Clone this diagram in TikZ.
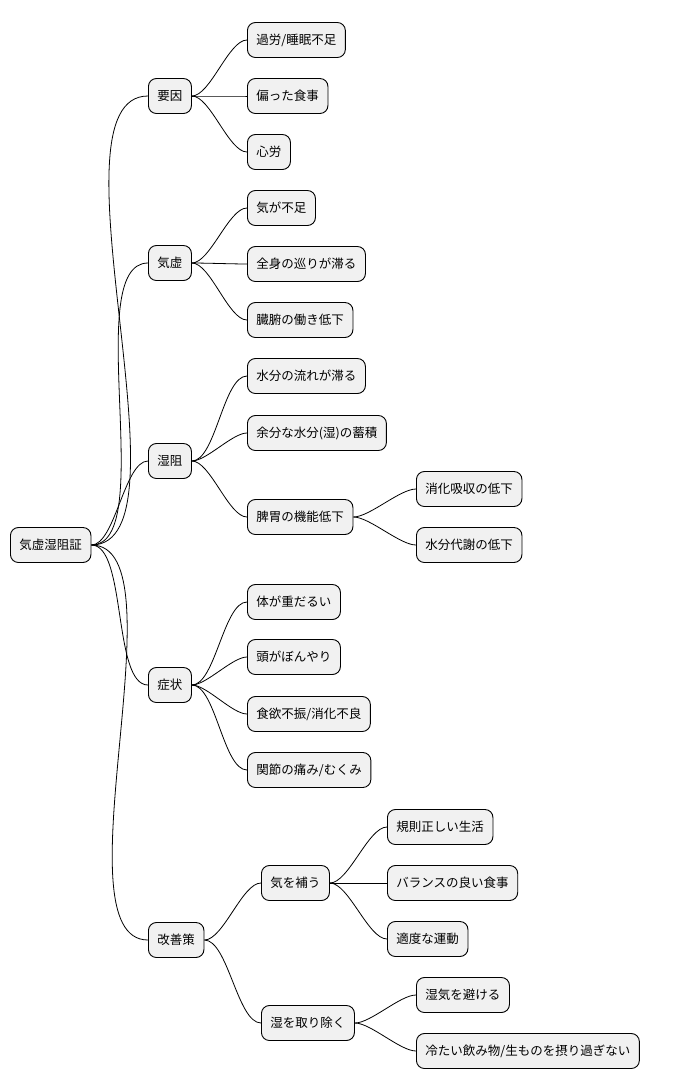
\documentclass[tikz,border=0pt]{standalone}
\usepackage{fontspec}
\setmainfont{Noto Sans CJK JP}
\begin{document}
\begin{tikzpicture}[x=1pt,y=-1pt,
  box/.style={draw=black,line width=0.9pt,fill={rgb,255:red,241;green,241;blue,241},rounded corners=8pt,minimum height=35pt,inner xsep=9pt,anchor=west,font=\fontsize{12.5pt}{14pt}\selectfont},
  link/.style={line width=0.8pt}]
\useasboundingbox (0,0) rectangle (675,1090);
\node[box] (r) at (10,545) {気虚湿阻証};
\node[box] (a) at (148,96) {要因};
\node[box] (b) at (148,263) {気虚};
\node[box] (c) at (148,461) {湿阻};
\node[box] (d) at (148,685) {症状};
\node[box] (e) at (148,940) {改善策};
\node[box] (a1) at (247,40) {過労/睡眠不足};
\node[box] (a2) at (247,96) {偏った食事};
\node[box] (a3) at (247,152) {心労};
\node[box] (b1) at (247,208) {気が不足};
\node[box] (b2) at (247,264) {全身の巡りが滞る};
\node[box] (b3) at (247,320) {臓腑の働き低下};
\node[box] (c1) at (247,376) {水分の流れが滞る};
\node[box] (c2) at (247,433) {余分な水分(湿)の蓄積};
\node[box] (c3) at (247,517) {脾胃の機能低下};
\node[box] (c31) at (416,489) {消化吸収の低下};
\node[box] (c32) at (416,545) {水分代謝の低下};
\node[box] (d1) at (247,602) {体が重だるい};
\node[box] (d2) at (247,657) {頭がぼんやり};
\node[box] (d3) at (247,714) {食欲不振/消化不良};
\node[box] (d4) at (247,770) {関節の痛み/むくみ};
\node[box] (e1) at (261,883) {気を補う};
\node[box] (e2) at (261,1023) {湿を取り除く};
\node[box] (e11) at (387,827) {規則正しい生活};
\node[box] (e12) at (387,883) {バランスの良い食事};
\node[box] (e13) at (387,939) {適度な運動};
\node[box] (e21) at (416,995) {湿気を避ける};
\node[box] (e22) at (416,1051) {冷たい飲み物/生ものを摂り過ぎない};
\foreach \p/\c in {r/a,r/b,r/c,r/d,r/e,a/a1,a/a2,a/a3,b/b1,b/b2,b/b3,c/c1,c/c2,c/c3,c3/c31,c3/c32,d/d1,d/d2,d/d3,d/d4,e/e1,e/e2,e1/e11,e1/e12,e1/e13,e2/e21,e2/e22}
  \draw[link] (\p.east) to[out=0,in=180,looseness=0.6] (\c.west);
\end{tikzpicture}
\end{document}
